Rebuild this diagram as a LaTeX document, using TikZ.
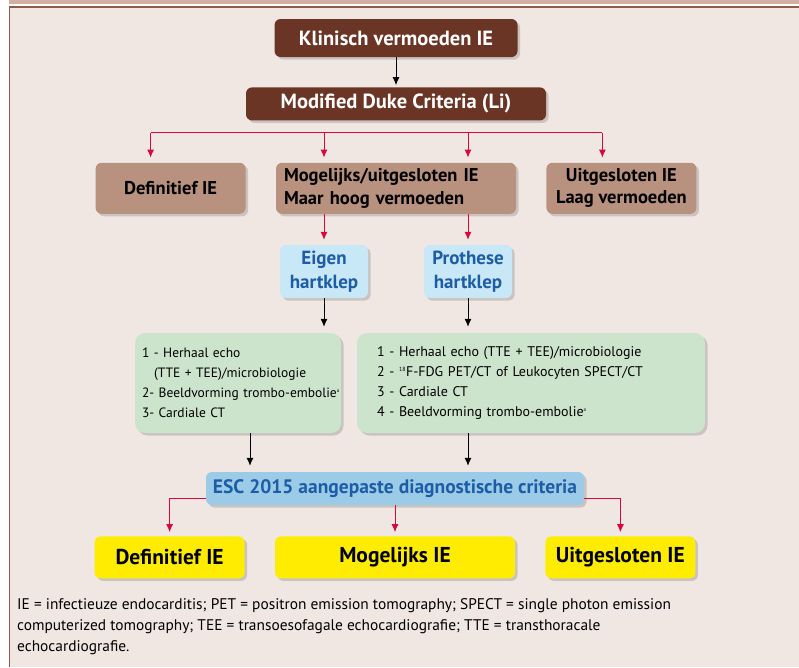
\documentclass[tikz,border=0pt]{standalone}
\usepackage{fontspec}
\setmainfont{PT Sans}
\usepackage{xcolor}
\usetikzlibrary{arrows.meta,positioning,shadows}

\definecolor{pagebg}{HTML}{F0E7E2}
\definecolor{bandtan}{HTML}{D2AFA1}
\definecolor{framebrown}{HTML}{8C5B4B}
\definecolor{darkbrown}{HTML}{6B3526}
\definecolor{tanbrown}{HTML}{B8917F}
\definecolor{arrowred}{HTML}{D5093C}
\definecolor{valvefill}{HTML}{C8E7F7}
\definecolor{escfill}{HTML}{9CCBE8}
\definecolor{valveblue}{HTML}{1C5DA6}
\definecolor{listgreen}{HTML}{CDE4CC}
\definecolor{resultyellow}{HTML}{FFEC00}

\begin{document}
\begin{tikzpicture}[
  x=1pt, y=1pt,
  box/.style={rounded corners=6pt, align=center, inner sep=3pt,
    drop shadow={shadow xshift=2.5pt, shadow yshift=-2.5pt, opacity=0.3, fill=black!55}},
  dark/.style={box, fill=darkbrown, text=white, font=\bfseries\fontsize{20.5}{23}\selectfont},
  tan/.style={box, fill=tanbrown, font=\bfseries\fontsize{18.5}{23.5}\selectfont},
  valve/.style={box, fill=valvefill, text=valveblue, font=\bfseries\fontsize{19}{24}\selectfont},
  esc/.style={box, fill=escfill, text=valveblue, font=\bfseries\fontsize{19.5}{22}\selectfont},
  listbox/.style={box, rounded corners=10pt, fill=listgreen, align=left, font=\fontsize{14}{20}\selectfont},
  result/.style={box, fill=resultyellow, font=\bfseries\fontsize{21.5}{24}\selectfont},
  arr/.style={-{Latex[length=8pt,width=7pt]}, line width=1pt},
  redarr/.style={arr, draw=arrowred},
  node distance=30pt
]
\useasboundingbox (0,0) rectangle (799,-667);

% ---------- Page frame ----------
\fill[pagebg] (10,-8) rectangle (799,-667);
\fill[bandtan] (9,0) rectangle (799,-4);
\draw[framebrown, line width=1.3pt] (9,-7) -- (799,-7);
\draw[framebrown, line width=1.5pt] (9.5,-7) -- (9.5,-667);

% ---------- Row 1: clinical suspicion ----------
\node[dark, minimum width=243pt, minimum height=38pt] (klin) at (396,-38) {Klinisch vermoeden IE};
\node[dark, minimum width=300pt, minimum height=33pt, below=30pt of klin] (duke) {Modified Duke Criteria (Li)};

% ---------- Row 2: Duke outcome ----------
\node[tan, text width=224pt, inner xsep=8pt, align=left, minimum height=51pt, below=42pt of duke] (mog) {Mogelijks/uitgesloten IE\\Maar hoog vermoeden};
\node[tan, minimum width=150pt, minimum height=51pt, left=30pt of mog] (def) {Definitief IE};
\node[tan, minimum width=150pt, minimum height=51pt, right=30pt of mog, font=\bfseries\fontsize{18.5}{22}\selectfont] (uit) {Uitgesloten IE\\Laag vermoeden};

% ---------- Row 3: valve type ----------
\node[valve, minimum width=88pt, minimum height=53pt] (eigen) at (324,-271.5) {Eigen\\hartklep};
\node[valve, minimum width=88pt, minimum height=53pt] (proth) at (468,-271.5) {Prothese\\hartklep};

% ---------- Row 4: further work-up ----------
\node[listbox, text width=192pt, inner xsep=7pt, minimum height=100pt, font=\fontsize{13.5}{20}\selectfont] (listL) at (238,-383) {1 - Herhaal echo\\
  \hspace*{12pt}(TTE + TEE)/microbiologie\\
  \mbox{2- Beeldvorming trombo-embolie\textsuperscript{\fontsize{5}{5}\selectfont a}}\\
  3- Cardiale CT};
\node[listbox, text width=308pt, inner xsep=20pt, minimum height=100pt] (listR) at (531,-383) {1 - Herhaal echo (TTE + TEE)/microbiologie\\
  2 - \textsuperscript{\fontsize{6}{6}\selectfont 18}F-FDG PET/CT of Leukocyten SPECT/CT\\
  3 - Cardiale CT\\
  4 - Beeldvorming \mbox{trombo-embolie}\textsuperscript{\fontsize{5}{5}\selectfont a}};

% ---------- Row 5: ESC criteria and results ----------
\node[esc, minimum width=378pt, minimum height=33pt] (escc) at (395,-488.5) {ESC 2015 aangepaste diagnostische criteria};
\node[result, minimum width=240pt, minimum height=42pt, below=31pt of escc] (resmog) {Mogelijks IE};
\node[result, minimum width=150pt, minimum height=42pt, left=30pt of resmog] (resdef) {Definitief IE};
\node[result, minimum width=150pt, minimum height=42pt, right=30pt of resmog] (resuit) {Uitgesloten IE};

% ---------- Footnote ----------
\node[anchor=north west, align=left, inner sep=0pt, font=\fontsize{15.4}{21}\selectfont] (note) at (17,-598) {IE = infectieuze endocarditis; PET = positron emission tomography; SPECT = single photon emission\\
computerized tomography; TEE = transoesofagale echocardiografie; TTE = transthoracale\\
echocardiografie.};

% ---------- Arrows ----------
\draw[arr, shorten >=2pt] (klin) -- (duke);

\coordinate[above left=30pt and 20pt of def.north] (busL);
\coordinate[above left=30pt and 19pt of uit.north] (busR);
\draw[arrowred, line width=1pt] (busL) -- (busR);
\draw[redarr, shorten >=5pt] (busL) -- (busL |- def.north);
\draw[redarr, shorten >=5pt] (busL -| eigen) -- (eigen |- mog.north);
\draw[redarr, shorten >=5pt] (busL -| proth) -- (proth |- mog.north);
\draw[redarr, shorten >=5pt] (busR) -- (busR |- uit.north);

\draw[redarr, shorten >=5pt] (mog.south -| eigen) -- (eigen.north);
\draw[redarr, shorten >=5pt] (mog.south -| proth) -- (proth.north);

\draw[arr, shorten >=6pt] (eigen) -- (eigen |- listL.north);
\draw[arr, shorten >=6pt] (proth) -- (proth |- listR.north);

\draw[arr, shorten >=6pt] ([xshift=12pt]listL.south) -- ([xshift=12pt]listL.south |- escc.north);
\draw[arr, shorten >=6pt] (listR.south -| proth) -- (escc.north -| proth);

\draw[redarr, shorten >=4pt] ([yshift=-10pt]escc.west) -| (resdef.north);
\draw[redarr, shorten >=4pt] (escc) -- (resmog);
\draw[redarr, shorten >=4pt] ([yshift=-10pt]escc.east) -| (resuit.north);

\end{tikzpicture}
\end{document}
